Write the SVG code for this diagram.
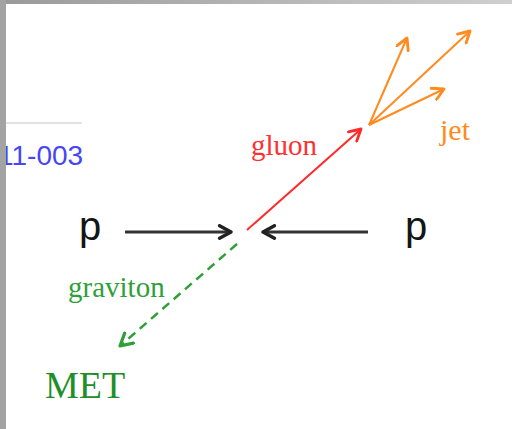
<svg xmlns="http://www.w3.org/2000/svg" width="512" height="429" viewBox="0 0 512 429">
<defs>
<linearGradient id="topg" x1="0" y1="0" x2="1" y2="0"><stop offset="0" stop-color="#9a9a9a"/><stop offset="1" stop-color="#cfcfcf"/></linearGradient>
<marker id="mkb" viewBox="0 0 14 14" refX="12" refY="7" markerWidth="16" markerHeight="16" markerUnits="userSpaceOnUse" orient="auto"><path d="M2,1.5 L12,7 L2,12.5" fill="none" stroke="#222" stroke-width="3" stroke-linecap="round" stroke-linejoin="round"/></marker>
<marker id="mkr" viewBox="0 0 12 12" refX="10" refY="6" markerWidth="15" markerHeight="15" markerUnits="userSpaceOnUse" orient="auto"><path d="M1,1 L10,6 L1,11" fill="none" stroke="#ff2a2a" stroke-width="2.3" stroke-linecap="round" stroke-linejoin="round"/></marker>
<marker id="mko" viewBox="0 0 12 12" refX="10" refY="6" markerWidth="15" markerHeight="15" markerUnits="userSpaceOnUse" orient="auto"><path d="M1,1 L10,6 L1,11" fill="none" stroke="#ff8a1e" stroke-width="2.3" stroke-linecap="round" stroke-linejoin="round"/></marker>
<marker id="mkg" viewBox="0 0 12 12" refX="10" refY="6" markerWidth="16" markerHeight="16" markerUnits="userSpaceOnUse" orient="auto"><path d="M1,1 L10,6 L1,11" fill="none" stroke="#2ea03a" stroke-width="2.4" stroke-linecap="round" stroke-linejoin="round"/></marker>
</defs>
<style>
.sans{font-family:"Liberation Sans",Arial,sans-serif}
.serif{font-family:"Liberation Serif","Times New Roman",serif}
.blk{stroke:#333;stroke-width:3;fill:none}
</style>
<rect width="512" height="429" fill="#fff"/>
<line x1="6" y1="123" x2="82" y2="123" stroke="#e2e2e2" stroke-width="2"/>
<g id="label-id"><text class="sans" x="-2" y="165" font-size="28" fill="#4646f5">11-003</text></g>
<g id="p-left"><text class="sans" x="79" y="240" font-size="40" fill="#151515">p</text></g>
<g id="p-right"><text class="sans" x="405" y="240" font-size="40" fill="#151515">p</text></g>
<g id="gluon-label"><text class="serif" x="251" y="155" font-size="29" fill="#ff3030">gluon</text></g>
<g id="jet-label"><text class="serif" x="440" y="140" font-size="30" fill="#ff8a1e">jet</text></g>
<g id="graviton-label"><text class="serif" x="68" y="297" font-size="29" fill="#2ea03a">graviton</text></g>
<g id="met-label"><text class="serif" x="45" y="398" font-size="38" fill="#1f8f2a">MET</text></g>
<g id="connectors">
<line class="blk" x1="125" y1="232" x2="231" y2="232" marker-end="url(#mkb)"/>
<line class="blk" x1="368" y1="232" x2="263" y2="232" marker-end="url(#mkb)"/>
<line x1="247" y1="230" x2="361" y2="129" stroke="#ff2a2a" stroke-width="2" marker-end="url(#mkr)"/>
<line x1="369" y1="125" x2="407" y2="38" stroke="#ff8a1e" stroke-width="2" marker-end="url(#mko)"/>
<line x1="369" y1="125" x2="470" y2="31" stroke="#ff8a1e" stroke-width="2" marker-end="url(#mko)"/>
<line x1="369" y1="125" x2="444" y2="89" stroke="#ff8a1e" stroke-width="2" marker-end="url(#mko)"/>
<line x1="237" y1="244" x2="120" y2="346" stroke="#2ea03a" stroke-width="2.5" stroke-dasharray="9 6" marker-end="url(#mkg)"/>
</g>
<rect x="0" y="0" width="512" height="4" fill="url(#topg)"/>
<rect x="0" y="0" width="6" height="429" fill="#a3a3a3"/>
</svg>
